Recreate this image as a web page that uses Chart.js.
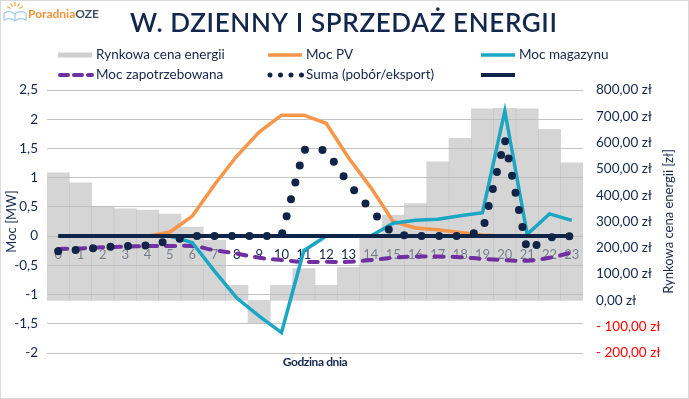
<!DOCTYPE html>
<html>
<head>
<meta charset="utf-8">
<script src="https://cdn.jsdelivr.net/npm/chart.js@4.4.1/dist/chart.umd.min.js"></script>
<style>
  html, body { margin: 0; padding: 0; background: #fff; }
  #wrap { position: relative; width: 689px; height: 399px; }
</style>
</head>
<body>
<div id="wrap"><canvas id="chart" width="689" height="399"></canvas></div>
<script>
// data
const hours = ['0','1','2','3','4','5','6','7','8','9','10','11','12','13','14','15','16','17','18','19','20','21','22','23'];
const marketPrice = [485, 447, 358, 348, 343, 328, 279, 229, 57, -86, 57, 121, 57, 126, 240, 324, 368, 527, 616, 728, 730, 728, 650, 523];
const pvPower = [0, 0, 0, 0, 0, 0.07, 0.34, 0.88, 1.37, 1.78, 2.07, 2.07, 1.93, 1.34, 0.83, 0.25, 0.14, 0.11, 0.06, 0.02, 0, 0, 0, 0];
const storagePower = [0, 0, 0, 0, 0, 0, -0.11, -0.6, -1.06, -1.37, -1.65, -0.25, 0, 0, 0, 0.22, 0.27, 0.29, 0.35, 0.4, 2.14, 0.03, 0.38, 0.27];
const demandPower = [-0.22, -0.21, -0.19, -0.18, -0.17, -0.17, -0.17, -0.24, -0.3, -0.37, -0.41, -0.44, -0.44, -0.44, -0.41, -0.37, -0.35, -0.35, -0.36, -0.39, -0.41, -0.42, -0.37, -0.28];
const sumPower = [-0.26, -0.23, -0.19, -0.17, -0.16, -0.08, 0, 0, 0, 0, 0, 1.48, 1.47, 0.9, 0.45, 0.03, 0, 0, 0, 0.08, 1.65, -0.25, -0.02, 0];
const zeroLine = [0, 0, 0, 0, 0, 0, 0, 0, 0, 0, 0, 0, 0, 0, 0, 0, 0, 0, 0, 0, 0, 0, 0, 0];
const leftTicks = { min: -2, max: 2.5, step: 0.5 };
const rightTicks = { min: -200, max: 800, step: 100 };

const NAVY = '#13264b';
const FONT = 'Lato';

Chart.defaults.font.family = FONT;
Chart.defaults.color = NAVY;

const fmtMW = v => String(v).replace('.', ',');
const fmtZl = v => {
    const s = Math.abs(v).toFixed(2).replace('.', ',') + ' zł';
    return v < 0 ? '- ' + s : s;
};

// logo, title, legend, axis titles and frame
const decor = {
    id: 'decor',
    afterDraw(chart) {
        const ctx = chart.ctx;
        const area = chart.chartArea;
        ctx.save();

        // logo icon
        ctx.strokeStyle = '#f5a347';
        ctx.lineWidth = 1.2;
        for (let a = -150; a <= -30; a += 30) {
            const r = a * Math.PI / 180;
            ctx.beginPath();
            ctx.moveTo(15 + Math.cos(r) * 5, 11 + Math.sin(r) * 5);
            ctx.lineTo(15 + Math.cos(r) * 9, 11 + Math.sin(r) * 9);
            ctx.stroke();
        }
        ctx.strokeStyle = '#9fcfe3';
        ctx.lineWidth = 1.3;
        ctx.beginPath();
        ctx.moveTo(4, 13); ctx.quadraticCurveTo(10, 10, 15, 14); ctx.quadraticCurveTo(20, 10, 26, 13);
        ctx.moveTo(4, 13); ctx.lineTo(4, 20); ctx.quadraticCurveTo(10, 17, 15, 21); ctx.quadraticCurveTo(20, 17, 26, 20); ctx.lineTo(26, 13);
        ctx.moveTo(15, 14); ctx.lineTo(15, 21);
        ctx.stroke();
        ctx.font = `bold 12px ${FONT}`;
        ctx.textBaseline = 'middle';
        ctx.textAlign = 'left';
        ctx.fillStyle = '#f0923a';
        ctx.fillText('Poradnia', 28, 14);
        const pw = ctx.measureText('Poradnia').width;
        ctx.fillStyle = '#3d4b5c';
        ctx.fillText('OZE', 28 + pw, 14);

        // title
        const title = 'W. DZIENNY I SPRZEDAŻ ENERGII';
        ctx.font = `600 26px ${FONT}`;
        ctx.fillStyle = NAVY;
        ctx.letterSpacing = '0px';
        const w0 = ctx.measureText(title).width;
        const ls = (427 - w0) / (title.length - 1);
        ctx.letterSpacing = ls + 'px';
        ctx.textBaseline = 'alphabetic';
        ctx.fillText(title, 130, 32);
        ctx.letterSpacing = '0px';

        // legend
        const cols = [58, 268, 481];
        const rows = [55, 75];
        const items = [0, 1, 2, 3, 4, 5];
        ctx.font = `13.5px ${FONT}`;
        ctx.textBaseline = 'middle';
        items.forEach(i => {
            const ds = chart.data.datasets[i];
            const x = cols[i % 3];
            const y = rows[Math.floor(i / 3)];
            ctx.save();
            ctx.beginPath();
            if (ds.type === 'bar') {
                ctx.fillStyle = '#d0d0d0';
                ctx.fillRect(x, y - 2.5, 34, 5);
            } else {
                ctx.strokeStyle = ds.borderColor;
                ctx.lineWidth = ds.legendWidth || ds.borderWidth;
                ctx.lineCap = ds.borderCapStyle || 'butt';
                ctx.setLineDash(ds.legendDash || []);
                ctx.moveTo(x + (ds.legendInset || 0), y);
                ctx.lineTo(x + 34, y);
                ctx.stroke();
            }
            ctx.restore();
            ctx.fillStyle = NAVY;
            ctx.fillText(ds.label, x + 38, y);
        });

        // axis titles
        ctx.font = `13px ${FONT}`;
        ctx.textAlign = 'center';
        ctx.save();
        ctx.translate(12, (area.top + area.bottom) / 2);
        ctx.rotate(-Math.PI / 2);
        ctx.fillText('Moc [MW]', 0, 0);
        ctx.restore();
        ctx.save();
        ctx.translate(669, (area.top + area.bottom) / 2);
        ctx.rotate(-Math.PI / 2);
        ctx.fillText('Rynkowa cena energii [zł]', 0, 0);
        ctx.restore();
        ctx.font = `bold 12px ${FONT}`;
        ctx.letterSpacing = '-0.4px';
        ctx.fillText('Godzina dnia', (area.left + area.right) / 2, 362);
        ctx.letterSpacing = '0px';

        // frame
        ctx.strokeStyle = '#d9d9d9';
        ctx.lineWidth = 1;
        ctx.strokeRect(0.5, 0.5, chart.width - 1, chart.height - 1);
        ctx.restore();
    }
};

new Chart(document.getElementById('chart'), {
    type: 'bar',
    data: {
        labels: hours,
        datasets: [
            {
                type: 'bar',
                label: 'Rynkowa cena energii',
                data: marketPrice,
                yAxisID: 'y1',
                backgroundColor: 'rgba(185, 185, 185, 0.6)',
                barPercentage: 1,
                categoryPercentage: 1,
                order: 10
            },
            {
                type: 'line',
                label: 'Moc PV',
                data: pvPower,
                yAxisID: 'y',
                borderColor: '#f7964a',
                borderWidth: 3.5,
                pointRadius: 0,
                order: 5
            },
            {
                type: 'line',
                label: 'Moc magazynu',
                data: storagePower,
                yAxisID: 'y',
                borderColor: '#1ba7c4',
                borderWidth: 3.5,
                pointRadius: 0,
                order: 4
            },
            {
                type: 'line',
                label: 'Moc zapotrzebowana',
                data: demandPower,
                yAxisID: 'y',
                borderColor: '#7030a0',
                borderWidth: 4,
                borderDash: [9, 9],
                borderCapStyle: 'round',
                legendDash: [8, 6],
                legendInset: 2,
                tension: 0.4,
                pointRadius: 0,
                order: 6
            },
            {
                type: 'line',
                label: 'Suma (pobór/eksport)',
                data: sumPower,
                yAxisID: 'y',
                borderColor: '#0f2447',
                borderWidth: 8,
                borderDash: [0, 17.5],
                borderCapStyle: 'round',
                legendWidth: 5,
                legendDash: [0, 10.5],
                legendInset: 2,
                pointRadius: 0,
                order: 1
            },
            {
                type: 'line',
                label: '',
                data: zeroLine,
                yAxisID: 'y',
                borderColor: '#0f2447',
                borderWidth: 4,
                pointRadius: 0,
                order: 2
            }
        ]
    },
    options: {
        responsive: false,
        animation: false,
        layout: { padding: { top: 90, bottom: 46, left: 0, right: 0 } },
        plugins: {
            legend: { display: false },
            title: { display: false },
            tooltip: { enabled: false }
        },
        scales: {
            x: {
                type: 'category',
                position: { y: 0 },
                offset: true,
                grid: { display: false },
                border: { display: false },
                ticks: { color: NAVY, font: { size: 13 }, padding: 3, maxRotation: 0, autoSkip: false }
            },
            y: {
                position: 'left',
                min: leftTicks.min,
                max: leftTicks.max,
                afterFit: s => { s.width = 47; },
                grid: { color: '#c3c3c3', lineWidth: 1, drawTicks: false },
                border: { display: false },
                ticks: { stepSize: leftTicks.step, padding: 9, color: NAVY, font: { size: 13.5 }, callback: v => fmtMW(v) }
            },
            y1: {
                position: 'right',
                min: rightTicks.min,
                max: rightTicks.max,
                afterFit: s => { s.width = 106; },
                grid: { display: false, drawTicks: false },
                border: { display: false },
                ticks: {
                    stepSize: rightTicks.step,
                    padding: 13,
                    font: { size: 13.5 },
                    color: c => (c.tick && c.tick.value < 0 ? '#ff0000' : NAVY),
                    callback: v => fmtZl(v)
                }
            }
        }
    },
    plugins: [decor]
});
</script>
</body>
</html>
